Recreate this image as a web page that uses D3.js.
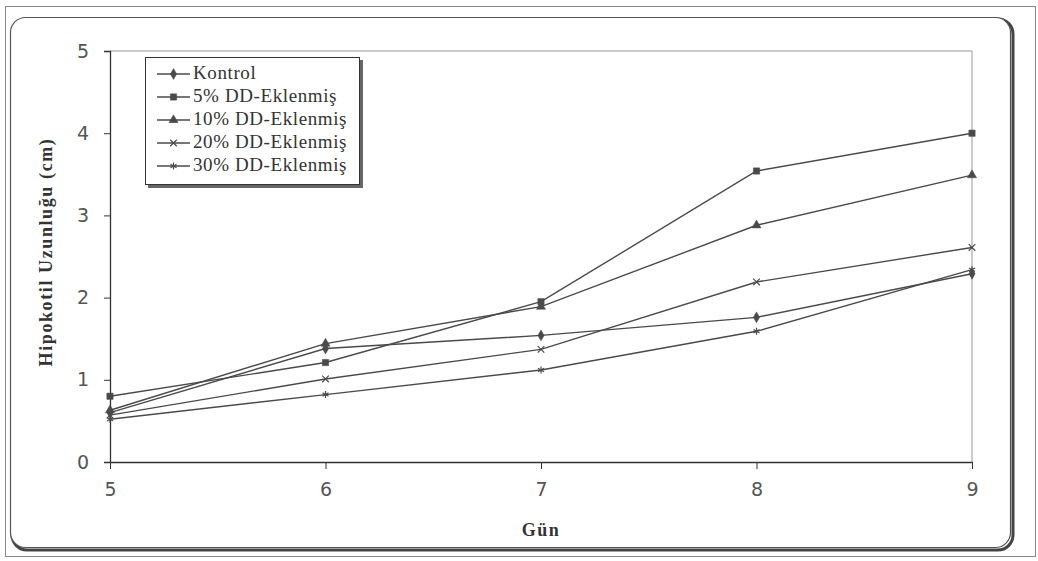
<!DOCTYPE html>
<html lang="tr">
<head>
<meta charset="utf-8">
<title>Hipokotil Uzunluğu</title>
<script type="text/javascript" src="https://d3js.org/d3.v7.min.js"></script>
<style type="text/css">
  body { margin: 0; background: #fff; }
</style>
</head>
<body>
<script type="text/javascript">
// data
var days = [5, 6, 7, 8, 9];
var seriesNames = ["Kontrol", "5% DD-Eklenmiş", "10% DD-Eklenmiş", "20% DD-Eklenmiş", "30% DD-Eklenmiş"];
var kontrol = [0.60, 1.38, 1.54, 1.76, 2.29];
var dd5 = [0.80, 1.21, 1.95, 3.54, 4.00];
var dd10 = [0.63, 1.44, 1.89, 2.88, 3.49];
var dd20 = [0.57, 1.01, 1.37, 2.19, 2.61];
var dd30 = [0.52, 0.82, 1.12, 1.59, 2.34];
var yTicks = [0, 1, 2, 3, 4, 5];

var allSeries = [kontrol, dd5, dd10, dd20, dd30];
var symbols = [d3.symbolDiamond, d3.symbolSquare, d3.symbolTriangle, d3.symbolTimes, d3.symbolAsterisk];
var symSize = [34, 40, 36, 30, 34];
var filled = [true, true, true, false, false];
var ink = "#4a4a4a";
var serif = "'Liberation Serif', 'Times New Roman', serif";
var sans = "'DejaVu Sans', Verdana, sans-serif";

var W = 1038, H = 561;
var svg = d3.select("body").append("svg")
    .attr("width", W)
    .attr("height", H);

// outer thin border of the scan
svg.append("rect")
    .attr("x", 5.5).attr("y", 6.5)
    .attr("width", 1030).attr("height", 550)
    .attr("fill", "none").attr("stroke", "#888").attr("stroke-width", 1);

// chart frame with shadow (right + bottom thicker)
svg.append("rect")
    .attr("x", 12).attr("y", 19)
    .attr("width", 1001).attr("height", 531)
    .attr("rx", 15).attr("ry", 15)
    .attr("fill", "none").attr("stroke", "#444").attr("stroke-width", 3);
svg.append("rect")
    .attr("x", 10.5).attr("y", 17.5)
    .attr("width", 1000).attr("height", 530)
    .attr("rx", 15).attr("ry", 15)
    .attr("fill", "#fff").attr("stroke", "#555").attr("stroke-width", 1.2);

var x = d3.scaleLinear().domain([5, 9]).range([110, 972]);
var y = d3.scaleLinear().domain([0, 5]).range([462, 51]);

// plot area border (top, right)
svg.append("path")
    .attr("d", "M110," + y(5) + "H" + x(9) + "V" + y(0))
    .attr("fill", "none").attr("stroke", "#999").attr("stroke-width", 1);

// y axis
var yAxis = svg.append("g")
    .attr("transform", "translate(110,0)")
    .call(d3.axisLeft(y).tickValues(yTicks).tickFormat(d3.format("d")).tickSize(6).tickPadding(15));
yAxis.select(".domain").attr("stroke", "#333").attr("stroke-width", 1.3);
yAxis.selectAll(".tick line").attr("stroke", "#333");
yAxis.selectAll(".tick text")
    .attr("font-family", sans).attr("font-size", "19px").attr("fill", "#555");

// x axis
var xAxis = svg.append("g")
    .attr("transform", "translate(0," + y(0) + ")")
    .call(d3.axisBottom(x).tickValues(days).tickFormat(d3.format("d")).tickSize(7).tickPadding(14).tickSizeOuter(0));
xAxis.select(".domain").attr("stroke", "#333").attr("stroke-width", 1.3);
xAxis.selectAll(".tick line").attr("stroke", "#333");
xAxis.selectAll(".tick text")
    .attr("font-family", sans).attr("font-size", "19px").attr("fill", "#555");

// lines
var line = d3.line()
    .x(function(d, i) { return x(days[i]); })
    .y(function(d) { return y(d); });

allSeries.forEach(function(vals, s) {
    svg.append("path")
        .datum(vals)
        .attr("d", line)
        .attr("fill", "none")
        .attr("stroke", ink)
        .attr("stroke-width", 1.4);
    svg.selectAll(".m" + s)
        .data(vals)
        .enter().append("path")
        .attr("class", "m" + s)
        .attr("transform", function(d, i) { return "translate(" + x(days[i]) + "," + y(d) + ")"; })
        .attr("d", d3.symbol().type(symbols[s]).size(symSize[s]))
        .attr("fill", filled[s] ? ink : "none")
        .attr("stroke", ink)
        .attr("stroke-width", filled[s] ? 0.5 : 1.2);
});

// axis titles
svg.append("text")
    .attr("transform", "translate(52,252) rotate(-90)")
    .attr("text-anchor", "middle")
    .attr("font-family", serif)
    .attr("font-size", "18px")
    .attr("font-weight", "bold")
    .attr("letter-spacing", "1.6px")
    .attr("fill", "#333")
    .text("Hipokotil Uzunluğu (cm)");

svg.append("text")
    .attr("x", 541).attr("y", 536)
    .attr("text-anchor", "middle")
    .attr("font-family", serif)
    .attr("font-size", "18px")
    .attr("font-weight", "bold")
    .attr("letter-spacing", "1.5px")
    .attr("fill", "#333")
    .text("Gün");

// legend
var lg = svg.append("g");
lg.append("rect")
    .attr("x", 148).attr("y", 60)
    .attr("width", 215).attr("height", 128)
    .attr("fill", "#666");
lg.append("rect")
    .attr("x", 145.5).attr("y", 57.5)
    .attr("width", 214).attr("height", 127)
    .attr("fill", "#fff").attr("stroke", "#333").attr("stroke-width", 1);

var rowY = [74, 97, 120, 143, 166];
seriesNames.forEach(function(name, s) {
    var ry = rowY[s];
    lg.append("line")
        .attr("x1", 157).attr("x2", 190)
        .attr("y1", ry).attr("y2", ry)
        .attr("stroke", ink).attr("stroke-width", 1.4);
    lg.append("path")
        .attr("transform", "translate(173.5," + ry + ")")
        .attr("d", d3.symbol().type(symbols[s]).size(symSize[s]))
        .attr("fill", filled[s] ? ink : "none")
        .attr("stroke", ink)
        .attr("stroke-width", filled[s] ? 0.5 : 1.2);
    lg.append("text")
        .attr("x", 193).attr("y", ry + 5)
        .attr("font-family", serif)
        .attr("font-size", "19px")
        .attr("letter-spacing", "0.6px")
        .attr("fill", "#333")
        .text(name);
});
</script>
</body>
</html>
